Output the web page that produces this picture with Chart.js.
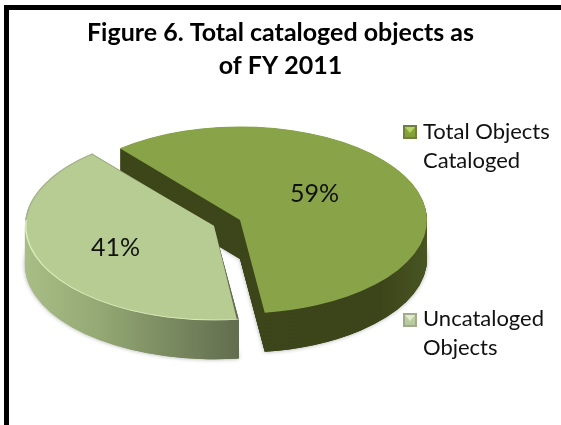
<!DOCTYPE html>
<html>
<head>
<meta charset="utf-8">
<style>
  html, body { margin: 0; padding: 0; background: #fff; }
  #wrap { width: 561px; height: 425px; }
</style>
<script src="https://cdn.jsdelivr.net/npm/chart.js@4/dist/chart.umd.js"></script>
</head>
<body>
<div id="wrap"><canvas id="pie" width="561" height="425"></canvas></div>
<script>
const categories = ['Total Objects Cataloged', 'Uncataloged Objects'];
const shares = [59, 41];
const legendLines = [['Total Objects', 'Cataloged'], ['Uncataloged', 'Objects']];
const titleLines = ['Figure 6. Total cataloged objects as', 'of FY 2011'];

const FONT = 'Lato, Carlito, Calibri, sans-serif';

// Extra radius the arc element adds to an exploded slice when it paints.
function explodeGrowth(arc) {
  const off = (arc.options.offset || 0) / 4;
  return off * (1 - Math.sin(Math.min(Math.PI, arc.circumference || 0)));
}

// Centre of a slice once its explode offset is applied.
function sliceOrigin(arc) {
  const mid = (arc.startAngle + arc.endAngle) / 2;
  const off = (arc.options.offset || 0) / 4;
  return { x: arc.x + Math.cos(mid) * off, y: arc.y + Math.sin(mid) * off };
}

function paintedRadius(arc) {
  return arc.outerRadius + explodeGrowth(arc);
}

// Outline of one slice, shifted down by `drop` in untilted coordinates.
function slicePath(ctx, arc, drop) {
  const o = sliceOrigin(arc);
  ctx.beginPath();
  ctx.moveTo(o.x, o.y + drop);
  ctx.arc(o.x, o.y + drop, paintedRadius(arc), arc.startAngle, arc.endAngle);
  ctx.closePath();
}

// Tilts the pie into perspective and extrudes its side walls.
const tiltPlugin = {
  id: 'tilt',
  afterDatasetUpdate(chart, args, opts) {
    // keep the exploded slice the same size as the rest of the pie
    chart.getDatasetMeta(0).data.forEach((arc, i) => {
      arc.outerRadius = opts.sliceRadius[i] - explodeGrowth(arc);
    });
  },
  beforeDatasetsDraw(chart, args, opts) {
    const { ctx } = chart;
    const arcs = chart.getDatasetMeta(0).data;
    const cx = arcs[0].x, cy = arcs[0].y;
    ctx.save();
    ctx.translate(opts.centerX, opts.centerY);
    ctx.scale(1, opts.squash);
    ctx.translate(-cx, -cy);
    const drop = opts.depth / opts.squash;

    const darkWall = ctx.createLinearGradient(cx - 60, 0, cx + 190, 0);
    darkWall.addColorStop(0, '#3d4619');
    darkWall.addColorStop(0.8, '#3b4519');
    darkWall.addColorStop(1, '#4a5523');
    const lightWall = ctx.createLinearGradient(cx - 215, 0, cx, 0);
    lightWall.addColorStop(0, '#a9bd86');
    lightWall.addColorStop(0.35, '#93a873');
    lightWall.addColorStop(1, '#616c4e');
    const walls = [darkWall, lightWall];

    arcs.forEach((arc, i) => {
      ctx.save();
      ctx.shadowColor = 'rgba(0,0,0,0.35)';
      ctx.shadowBlur = 4;
      ctx.fillStyle = walls[i];
      slicePath(ctx, arc, drop);
      ctx.fill();
      ctx.restore();
      ctx.fillStyle = walls[i];
      for (let d = drop; d > 0; d -= 1) {
        slicePath(ctx, arc, d);
        ctx.fill();
      }
    });
  },
  afterDatasetsDraw(chart, args, opts) {
    const { ctx } = chart;
    const arcs = chart.getDatasetMeta(0).data;
    // bevel on the light slice: pale along the front, grey along the back
    const light = arcs[1];
    const o = sliceOrigin(light);
    const r = paintedRadius(light) - 0.75;
    ctx.lineWidth = 1.5;
    ctx.beginPath();
    ctx.arc(o.x, o.y, r, light.startAngle, Math.PI * 1.02);
    ctx.strokeStyle = opts.frontRim;
    ctx.stroke();
    ctx.beginPath();
    ctx.arc(o.x, o.y, r, Math.PI * 1.02, light.endAngle);
    ctx.strokeStyle = opts.backRim;
    ctx.stroke();
    ctx.restore();

    // percentage labels
    const cx = arcs[0].x, cy = arcs[0].y;
    ctx.save();
    ctx.fillStyle = '#111';
    ctx.font = '25px ' + FONT;
    ctx.textAlign = 'center';
    ctx.textBaseline = 'middle';
    arcs.forEach((arc, i) => {
      const p = arc.getCenterPoint();
      const sx = opts.centerX + (p.x - cx) + opts.labelNudge[i][0];
      const sy = opts.centerY + (p.y - cy) * opts.squash + opts.labelNudge[i][1];
      ctx.fillText(shares[i] + '%', sx, sy);
    });
    ctx.restore();
  }
};

// Page background, the heavy frame and the two-line side legend.
const framePlugin = {
  id: 'frame',
  beforeDraw(chart) {
    const { ctx, width, height } = chart;
    ctx.save();
    ctx.fillStyle = '#fff';
    ctx.fillRect(0, 0, width, height);
    ctx.fillStyle = '#000';
    ctx.fillRect(4, 5, width - 4, 5);
    ctx.fillRect(4, 5, 5, height - 5);
    ctx.restore();
  },
  afterDraw(chart, args, opts) {
    const { ctx } = chart;
    ctx.save();
    opts.entries.forEach((e, i) => {
      const g = ctx.createLinearGradient(0, e.boxY, 0, e.boxY + 14);
      g.addColorStop(0, opts.swatchTop[i]);
      g.addColorStop(1, opts.swatchBottom[i]);
      ctx.fillStyle = opts.swatchEdge[i];
      ctx.fillRect(e.boxX, e.boxY, 14, 14);
      ctx.fillStyle = g;
      ctx.fillRect(e.boxX + 2, e.boxY + 2, 10, 10);
      // bevelled glint at the top of the swatch
      ctx.fillStyle = opts.swatchGlint[i];
      ctx.beginPath();
      ctx.moveTo(e.boxX + 2, e.boxY + 2);
      ctx.lineTo(e.boxX + 12, e.boxY + 2);
      ctx.lineTo(e.boxX + 7, e.boxY + 8);
      ctx.closePath();
      ctx.fill();
      ctx.fillStyle = '#111';
      ctx.font = '22px ' + FONT;
      ctx.textBaseline = 'alphabetic';
      legendLines[i].forEach((line, k) => {
        ctx.fillText(line, e.textX, e.textY + k * 29);
      });
    });
    ctx.restore();
  }
};

new Chart(document.getElementById('pie'), {
  type: 'pie',
  data: {
    labels: categories,
    datasets: [{
      data: shares,
      backgroundColor: ['#89a448', '#b6cc92'],
      borderWidth: 0,
      offset: [0, 114]
    }]
  },
  options: {
    responsive: false,
    animation: false,
    rotation: -40,
    radius: 187,
    layout: { padding: 0 },
    plugins: {
      legend: { display: false },
      tooltip: { enabled: false },
      title: {
        display: true,
        text: titleLines,
        color: '#000',
        font: { family: FONT, size: 25, weight: 'bold', lineHeight: 1.32 },
        padding: { top: 16, bottom: 0 }
      },
      tilt: {
        centerX: 240, centerY: 220, squash: 0.5, depth: 39,
        sliceRadius: [187, 189],
        frontRim: '#dcebbd',
        backRim: '#a6b28e',
        labelNudge: [[-11, -7], [8, -1]]
      },
      frame: {
        entries: [
          { boxX: 403, boxY: 125, textX: 423, textY: 139 },
          { boxX: 403, boxY: 313, textX: 423, textY: 326 }
        ],
        swatchEdge: ['#6f7f3f', '#a0ab8c'],
        swatchTop: ['#8fae3c', '#c3d3a8'],
        swatchBottom: ['#7f9a35', '#b4c698'],
        swatchGlint: ['#b9d26a', '#e2ebd0']
      }
    }
  },
  plugins: [framePlugin, tiltPlugin]
});
</script>
</body>
</html>
